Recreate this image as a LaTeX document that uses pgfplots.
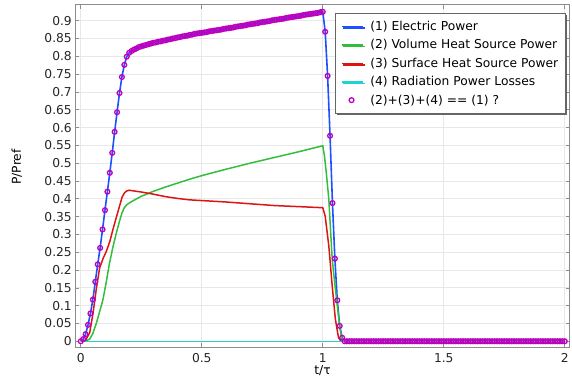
\documentclass[border=0pt]{standalone}
\usepackage{pgfplots}
\pgfplotsset{compat=1.18}
\usepackage{pgfplotstable}
\usepackage{fontspec}
\setmainfont{DejaVu Sans}
\usetikzlibrary{shadows}
\definecolor{cblue}{RGB}{30,80,255}
\definecolor{cgreen}{RGB}{50,190,60}
\definecolor{cred}{RGB}{220,20,20}
\definecolor{ccyan}{RGB}{30,210,210}
\definecolor{cmag}{RGB}{190,0,190}
\newcommand{\fs}{\fontsize{12.3bp}{14.8bp}\selectfont}
\pgfplotsset{
  mylineleg/.style={legend image code/.code={\draw[##1] (0bp,0bp) -- (22bp,0bp);}},
  mymarkleg/.style={legend image code/.code={\coordinate (legA) at (0bp,0bp);\coordinate (legB) at (22bp,0bp);\draw[##1] plot coordinates {(10bp,0bp)};}},
}

\pgfplotstableread{
t y
0 0
0.01 0.006
0.02 0.020
0.03 0.046
0.04 0.078
0.05 0.117
0.06 0.167
0.07 0.216
0.08 0.262
0.09 0.314
0.10 0.368
0.11 0.420
0.12 0.473
0.13 0.529
0.14 0.588
0.15 0.643
0.16 0.697
0.17 0.742
0.18 0.776
0.19 0.799
0.20 0.810
0.21 0.815
0.22 0.819
0.23 0.822
0.24 0.826
0.25 0.828
0.26 0.830
0.27 0.832
0.28 0.834
0.29 0.836
0.30 0.838
0.31 0.839
0.32 0.841
0.33 0.842
0.34 0.844
0.35 0.845
0.36 0.847
0.37 0.848
0.38 0.850
0.39 0.851
0.40 0.853
0.41 0.854
0.42 0.856
0.43 0.857
0.44 0.858
0.45 0.860
0.46 0.861
0.47 0.863
0.48 0.864
0.49 0.865
0.50 0.866
0.51 0.867
0.52 0.868
0.53 0.870
0.54 0.871
0.55 0.872
0.56 0.873
0.57 0.874
0.58 0.875
0.59 0.877
0.60 0.878
0.61 0.879
0.62 0.880
0.63 0.881
0.64 0.883
0.65 0.884
0.66 0.885
0.67 0.886
0.68 0.887
0.69 0.889
0.70 0.890
0.71 0.891
0.72 0.892
0.73 0.893
0.74 0.895
0.75 0.896
0.76 0.897
0.77 0.898
0.78 0.899
0.79 0.901
0.80 0.902
0.81 0.903
0.82 0.904
0.83 0.905
0.84 0.906
0.85 0.908
0.86 0.909
0.87 0.910
0.88 0.911
0.89 0.912
0.90 0.913
0.91 0.914
0.92 0.916
0.93 0.917
0.94 0.918
0.95 0.919
0.96 0.920
0.97 0.921
0.98 0.922
0.99 0.924
1.00 0.925
1.01 0.869
1.02 0.745
1.03 0.577
1.04 0.388
1.05 0.232
1.06 0.115
1.07 0.043
1.08 0.010
1.09 0
1.10 0
1.11 0
1.12 0
1.13 0
1.14 0
1.15 0
1.16 0
1.17 0
1.18 0
1.19 0
1.20 0
1.21 0
1.22 0
1.23 0
1.24 0
1.25 0
1.26 0
1.27 0
1.28 0
1.29 0
1.30 0
1.31 0
1.32 0
1.33 0
1.34 0
1.35 0
1.36 0
1.37 0
1.38 0
1.39 0
1.40 0
1.41 0
1.42 0
1.43 0
1.44 0
1.45 0
1.46 0
1.47 0
1.48 0
1.49 0
1.50 0
1.51 0
1.52 0
1.53 0
1.54 0
1.55 0
1.56 0
1.57 0
1.58 0
1.59 0
1.60 0
1.61 0
1.62 0
1.63 0
1.64 0
1.65 0
1.66 0
1.67 0
1.68 0
1.69 0
1.70 0
1.71 0
1.72 0
1.73 0
1.74 0
1.75 0
1.76 0
1.77 0
1.78 0
1.79 0
1.80 0
1.81 0
1.82 0
1.83 0
1.84 0
1.85 0
1.86 0
1.87 0
1.88 0
1.89 0
1.90 0
1.91 0
1.92 0
1.93 0
1.94 0
1.95 0
1.96 0
1.97 0
1.98 0
1.99 0
2.00 0
}\elec

\pgfplotstableread{
t y
0 0
0.02 0.001
0.037 0.006
0.05 0.022
0.065 0.052
0.08 0.088
0.092 0.118
0.105 0.165
0.119 0.220
0.133 0.265
0.147 0.304
0.16 0.337
0.17 0.360
0.18 0.375
0.19 0.383
0.20 0.388
0.22 0.396
0.25 0.407
0.30 0.421
0.35 0.433
0.40 0.444
0.45 0.455
0.50 0.465
0.60 0.483
0.70 0.500
0.80 0.516
0.90 0.532
1.00 0.549
1.007 0.520
1.015 0.470
1.025 0.398
1.039 0.230
1.05 0.160
1.06 0.100
1.07 0.040
1.08 0.005
1.09 0
2.00 0
}\volume

\pgfplotstableread{
t y
0 0
0.02 0.003
0.037 0.024
0.051 0.080
0.064 0.146
0.078 0.206
0.092 0.232
0.106 0.253
0.12 0.280
0.133 0.314
0.147 0.348
0.16 0.379
0.171 0.405
0.181 0.417
0.19 0.422
0.20 0.424
0.25 0.419
0.30 0.413
0.35 0.406
0.40 0.401
0.45 0.397
0.50 0.395
0.60 0.391
0.70 0.386
0.80 0.381
0.90 0.378
1.00 0.375
1.01 0.351
1.025 0.267
1.039 0.155
1.052 0.062
1.065 0.010
1.075 0
2.00 0
}\surface

\pgfplotstableread{
t y
0 0
2 0
}\radiation

\begin{document}
\begin{tikzpicture}
\path (-75.5bp,-33bp) rectangle (496.5bp,348bp);
\begin{axis}[
  at={(0,0)}, anchor=south west,
  scale only axis, width=496bp, height=343.3bp,
  xmin=-0.0227, xmax=2.0206, ymin=-0.016, ymax=0.945,
  xtick={0,0.5,1,1.5,2},
  ytick={0,0.05,0.1,0.15,0.2,0.25,0.3,0.35,0.4,0.45,0.5,0.55,0.6,0.65,0.7,0.75,0.8,0.85,0.9},
  /pgf/number format/.cd, fixed, precision=2, assume math mode=true, /pgfplots/.cd,
  tick align=inside, major tick length=4bp,
  tick style={color=black!45, line width=0.6bp},
  axis line style={color=black!45, line width=0.8bp},
  grid=major, major grid style={color=black!9, line width=0.7bp},
  ticklabel style={font=\fs, text=black!85},
  xticklabel style={yshift=-3bp},
  xlabel={t/τ}, ylabel={P/Pref},
  xlabel style={at={(axis description cs:0.5,-0.0685)}, anchor=center, font=\fs},
  ylabel style={at={(axis description cs:-0.1185,0.526)}, anchor=center, font=\fs},
  legend style={at={(rel axis cs:0.525,0.976)}, anchor=north west, font=\fs,
    draw=black!60, fill=white, line width=0.8bp, row sep=3.6bp,
    cells={anchor=west}, inner xsep=5.5bp, inner ysep=6bp,
    /tikz/every odd column/.append style={column sep=4bp},
    drop shadow={shadow xshift=1.5bp, shadow yshift=-1.5bp, fill=black!60, opacity=1}},
  mylineleg,
]
\addplot[cblue, line width=1.6bp] table[x=t,y=y] {\elec};
\addlegendentry{(1) Electric Power}
\addplot[cgreen, line width=1.5bp] table[x=t,y=y] {\volume};
\addlegendentry{(2) Volume Heat Source Power}
\addplot[cred, line width=1.5bp] table[x=t,y=y] {\surface};
\addlegendentry{(3) Surface Heat Source Power}
\addplot[ccyan, line width=1.5bp] table[x=t,y=y] {\radiation};
\addlegendentry{(4) Radiation Power Losses}
\addplot[cmag, only marks, mark=o, mark size=2.4bp, line width=1.3bp, mymarkleg] table[x=t,y=y] {\elec};
\addlegendentry{(2)+(3)+(4) == (1) ?}
\end{axis}
\end{tikzpicture}
\end{document}
